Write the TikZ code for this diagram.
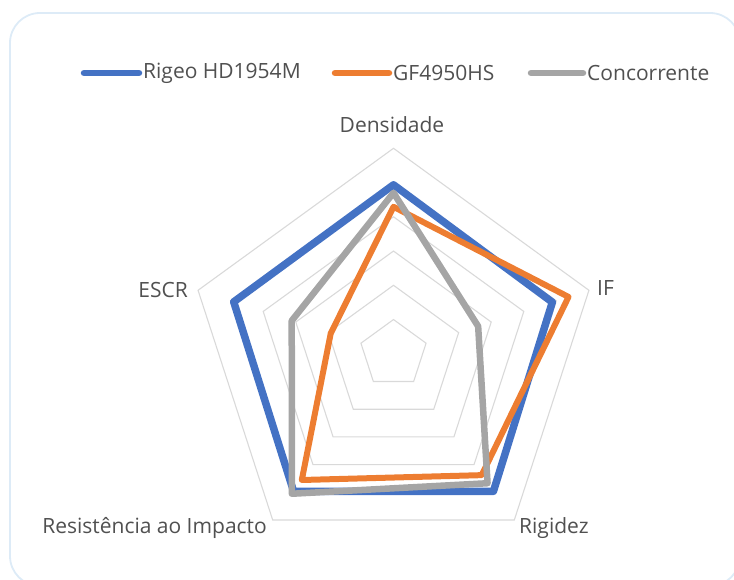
\documentclass[tikz,border=0pt]{standalone}
\usepackage{fontspec}
\setmainfont{Open Sans}
\definecolor{txtgray}{HTML}{505050}
\definecolor{gridgray}{HTML}{D9D9D9}
\definecolor{serblue}{HTML}{4472C4}
\definecolor{serorange}{HTML}{ED7D31}
\definecolor{sergray}{HTML}{A5A5A5}
\definecolor{frameblue}{HTML}{DDEBF7}
\begin{document}
\begin{tikzpicture}[x=1pt,y=1pt,
  lbl/.style={font=\fontsize{21}{25}\selectfont, text=txtgray, inner sep=0pt},
  gridline/.style={draw=gridgray, line width=1.1pt, line join=miter},
  blueser/.style={draw=serblue, line width=7.5pt, line join=round},
  orangeser/.style={draw=serorange, line width=6pt, line join=round},
  grayser/.style={draw=sergray, line width=6.5pt, line join=round},
  legline/.style={line width=6.5pt, line cap=round}]
\useasboundingbox (0,0) rectangle (734,580);
\begin{scope}
\clip (0,0) rectangle (734,580);
\draw[frameblue, line width=1.8pt, rounded corners=30pt] (10,567) rectangle (740,-6);
\end{scope}
% legend
\coordinate (lb1) at (84,507); \coordinate (lb2) at (139,507);
\coordinate (lo1) at (335,507); \coordinate (lo2) at (389,507);
\coordinate (lg1) at (531,507); \coordinate (lg2) at (583,507);
\draw[legline, serblue] (lb1) -- (lb2);
\draw[legline, serorange] (lo1) -- (lo2);
\draw[legline, sergray] (lg1) -- (lg2);
\node[lbl, anchor=west] (legb) at (143,507) {Rigeo HD1954M};
\node[lbl, anchor=west] (lego) at (393,507) {GF4950HS};
\node[lbl, anchor=west] (legg) at (587,507) {Concorrente};
% radar
\begin{scope}[shift={(393.5,226.2)}]
\foreach \k in {1,...,6}{
  \pgfmathsetmacro{\r}{205.5*\k/6}
  \draw[gridline] (90:\r pt) -- (18:\r pt) -- (-54:\r pt) -- (-126:\r pt) -- (162:\r pt) -- cycle;
}
\draw[blueser] (90:169pt) -- (18:167pt) -- (-54:170pt) -- (-126:170pt) -- (162:168pt) -- cycle;
\draw[orangeser] (90:147pt) -- (18:184pt) -- (-54:150pt) -- (-126:156pt) -- (162:66pt) -- cycle;
\draw[grayser] (90:161pt) -- (18:89pt) -- (-54:160pt) -- (-126:173pt) -- (162:107pt) -- cycle;
\end{scope}
% axis labels
\node[lbl] (dens) at (392,455) {Densidade};
\node[lbl, anchor=west] (if) at (597,292) {IF};
\node[lbl, anchor=west] (rig) at (519,52) {Rigidez};
\node[lbl, anchor=east] (res) at (267,52) {Resistência ao Impacto};
\node[lbl, anchor=east] (escr) at (188,290) {ESCR};
\end{tikzpicture}
\end{document}
